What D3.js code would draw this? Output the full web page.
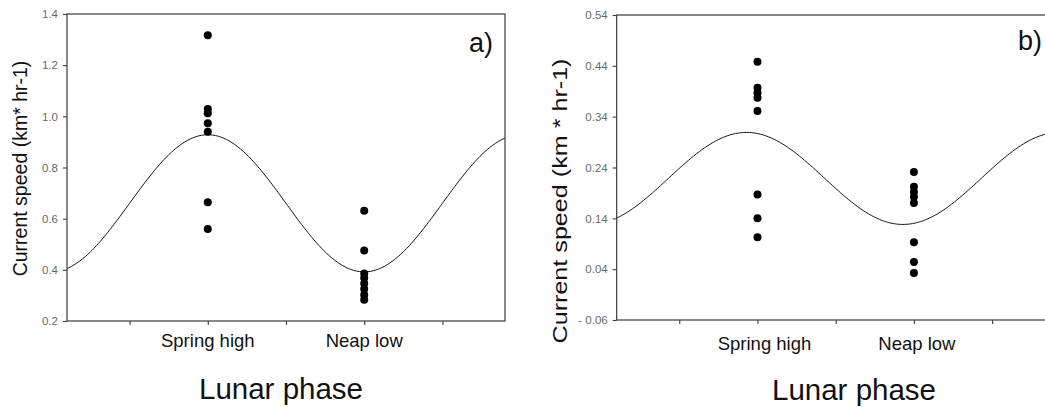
<!DOCTYPE html>
<html>
<head>
<meta charset="utf-8">
<script src="https://cdn.jsdelivr.net/npm/d3@7"></script>
<style>
  html, body { margin: 0; padding: 0; background: #fff; }
  svg { display: block; font-family: "Liberation Sans", Arial, sans-serif; }
  .frame { fill: none; stroke: #3a3a3a; stroke-width: 1.2; }
  .axis path { display: none; }
  .axis line { stroke: #3a3a3a; stroke-width: 1.1; }
  .yaxis text { fill: #6a6a6a; font-size: 11.5px; }
  .curve { fill: none; stroke: #111; stroke-width: 1; }
  .dot { fill: #000; }
</style>
</head>
<body>
<svg id="chart" width="1045" height="407"></svg>
<script>
// Lunar-phase categories and their x positions (tick units)
const phaseLabels = ["Spring high", "Neap low"];
const phasePos = [2, 4];
const xTicks = [1, 2, 3, 4, 5];

// Panel a: current speed observations (km hr-1)
const springA = [1.317, 1.029, 1.012, 0.973, 0.940, 0.664, 0.560];
const neapA = [0.631, 0.476, 0.386, 0.368, 0.347, 0.325, 0.303, 0.283];
const yTicksA = [0.2, 0.4, 0.6, 0.8, 1.0, 1.2, 1.4];
const yLabelsA = ["0.2", "0.4", "0.6", "0.8", "1.0", "1.2", "1.4"];

// Panel b: current speed observations (km hr-1)
const springB = [0.448, 0.397, 0.387, 0.377, 0.351, 0.187, 0.140, 0.103];
const neapB = [0.231, 0.202, 0.192, 0.182, 0.170, 0.093, 0.054, 0.0325];
const yTicksB = [-0.06, 0.04, 0.14, 0.24, 0.34, 0.44, 0.54];
const yLabelsB = ["- 0.06", "0.04", "0.14", "0.24", "0.34", "0.44", "0.54"];

// Fitted cosine per panel: mesor, amplitude, peak position, period (tick units)
const fitMesor = [0.660, 0.2185];
const fitAmplitude = [0.268, 0.0905];
const fitPeak = [2, 1.86];
const fitPeriod = [4, 4];

const svg = d3.select("#chart");

const panels = [
  {
    name: "a)", spring: springA, neap: neapA, yTicks: yTicksA, yLabels: yLabelsA,
    yDomain: [0.2, 1.4], left: 67, top: 14, bottom: 321, width: 438,
    title: "Current speed (km* hr-1)", titleX: 27, titleY: 168.5, titleLen: null,
    labX: 493, labY: 52, tickLabelDx: [0, 0], tickLabelY: 346.5, xTitleX: 281, xTitleY: 398.5
  },
  {
    name: "b)", spring: springB, neap: neapB, yTicks: yTicksB, yLabels: yLabelsB,
    yDomain: [-0.06, 0.54], left: 616.7, top: 15, bottom: 320, width: 438,
    title: "Current speed (km * hr-1)", titleX: 567, titleY: 201, titleLen: 285,
    labX: 1042, labY: 50, tickLabelDx: [7, 3], tickLabelY: 350, xTitleX: 854, xTitleY: 400
  }
];

panels.forEach((p, i) => {
  const g = svg.append("g");
  const x = d3.scaleLinear().domain([0.2, 5.8]).range([p.left, p.left + p.width]);
  const y = d3.scaleLinear().domain(p.yDomain).range([p.bottom, p.top]);

  // fitted curve
  const xs = d3.range(0.2, 5.8001, 0.02);
  const line = d3.line()
    .x(d => x(d))
    .y(d => y(fitMesor[i] + fitAmplitude[i] * Math.cos(2 * Math.PI * (d - fitPeak[i]) / fitPeriod[i])))
    .curve(d3.curveLinear);
  g.append("path").attr("class", "curve").attr("d", line(xs));

  // observations
  const pts = p.spring.map(v => ({ x: phasePos[0], v }))
    .concat(p.neap.map(v => ({ x: phasePos[1], v })));
  g.selectAll("circle.dot").data(pts).join("circle")
    .attr("class", "dot")
    .attr("cx", d => x(d.x))
    .attr("cy", d => y(d.v))
    .attr("r", 4);

  // frame
  g.append("rect").attr("class", "frame")
    .attr("x", p.left).attr("y", p.top)
    .attr("width", p.width).attr("height", p.bottom - p.top);

  // y axis
  g.append("g").attr("class", "axis yaxis")
    .attr("transform", `translate(${p.left},0)`)
    .call(d3.axisLeft(y).tickValues(p.yTicks).tickSize(4).tickPadding(5)
      .tickFormat((d, k) => p.yLabels[k]));

  // x axis ticks
  g.append("g").attr("class", "axis xaxis")
    .attr("transform", `translate(0,${p.bottom})`)
    .call(d3.axisBottom(x).tickValues(xTicks).tickSize(4).tickFormat(""));

  // category labels
  g.selectAll("text.cat").data(phaseLabels).join("text")
    .attr("class", "cat")
    .attr("x", (d, k) => x(phasePos[k]) + p.tickLabelDx[k])
    .attr("y", p.tickLabelY)
    .attr("text-anchor", "middle")
    .attr("font-size", 18.5)
    .attr("fill", "#111")
    .text(d => d);

  // x title
  g.append("text")
    .attr("x", p.xTitleX).attr("y", p.xTitleY)
    .attr("text-anchor", "middle")
    .attr("font-size", 29.5)
    .attr("fill", "#111")
    .text("Lunar phase");

  // y title
  const yt = g.append("text")
    .attr("transform", `translate(${p.titleX},${p.titleY}) rotate(-90)`)
    .attr("text-anchor", "middle")
    .attr("font-size", 19.5)
    .attr("fill", "#111")
    .text(p.title);
  if (p.titleLen) yt.attr("textLength", p.titleLen).attr("lengthAdjust", "spacingAndGlyphs");

  // panel letter
  g.append("text")
    .attr("x", p.labX).attr("y", p.labY)
    .attr("text-anchor", "end")
    .attr("font-size", 27)
    .attr("fill", "#111")
    .text(p.name);
});
</script>
</body>
</html>
